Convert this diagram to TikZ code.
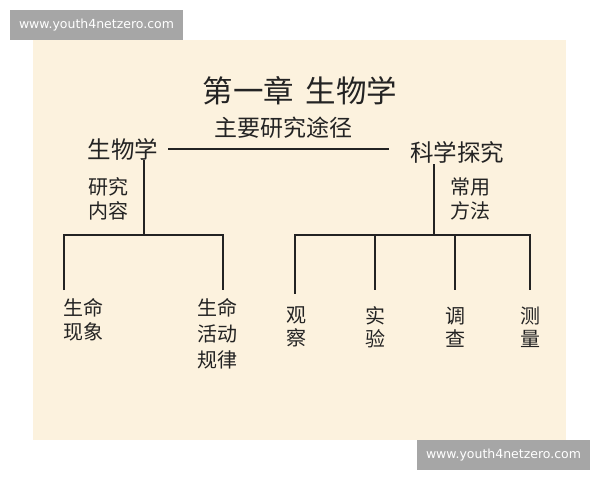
\documentclass[tikz,border=0pt]{standalone}
\usepackage{fontspec}
\newfontfamily\cjk{Noto Sans CJK SC}
\newfontfamily\wm{DejaVu Sans}
\definecolor{paper}{RGB}{252,242,222}
\definecolor{wmgray}{RGB}{166,166,166}
\definecolor{ink}{RGB}{35,35,35}
\begin{document}
\begin{tikzpicture}[x=1pt,y=-1pt,
  lbl/.style={inner sep=0pt, text=ink, font=\cjk\fontsize{20}{24}\selectfont, align=center},
  head/.style={inner sep=0pt, text=ink, font=\cjk\fontsize{23.5}{28}\selectfont},
  wmark/.style={fill=wmgray, text=white, font=\wm\fontsize{12.5}{14}\selectfont, minimum width=173pt, minimum height=30pt, inner sep=0pt},
  conn/.style={draw=ink, line width=1.6pt}]
\useasboundingbox (0,0) rectangle (600,480);
\fill[white] (0,0) rectangle (600,480);
\fill[paper] (33,40) rectangle (566,440);
\node[wmark] (wm1) at (96.5,25) {www.youth4netzero.com};
\node[wmark] (wm2) at (503.5,455) {www.youth4netzero.com};
% title
\node[inner sep=0pt, text=ink, font=\cjk\fontsize{30.5}{36}\selectfont] (title) at (300,91) {第一章\hspace{12pt}生物学};
\node[head] (bio) at (123,149) {生物学};
\node[head] (sci) at (457,152) {科学探究};
\node[head, font=\cjk\fontsize{23}{28}\selectfont] (path) at (283,128) {主要研究途径};
\draw[conn, shorten <=10pt, shorten >=21pt] (bio.east) -- (bio.east -| sci.west);
% left branch
\coordinate (lj) at (144,235);
\coordinate (la) at (64,235);
\coordinate (lb) at (223,235);
\coordinate (la2) at (64,290);
\coordinate (lb2) at (223,290);
\node[lbl] (content) at (108,198.5) {研究\\内容};
\draw[conn] (bio.south -| lj) -- (lj);
\draw[conn] (la2) -- (la) -- (lb) -- (lb2);
\node[lbl, font=\cjk\fontsize{20}{24.5}\selectfont] (p1) at (83,320) {生命\\现象};
\node[lbl, font=\cjk\fontsize{20}{26}\selectfont] (p2) at (217,334) {生命\\活动\\规律};
% right branch
\coordinate (rj) at (434,235);
\coordinate (r1) at (295,235);
\coordinate (r2) at (375,235);
\coordinate (r3) at (455,235);
\coordinate (r4) at (530,235);
\node[lbl] (method) at (470,198.5) {常用\\方法};
\draw[conn] ([yshift=-1pt]sci.south -| rj) -- (rj);
\node[lbl, font=\cjk\fontsize{20}{23}\selectfont] (m1) at (296,327) {观\\察};
\node[lbl, font=\cjk\fontsize{20}{23}\selectfont] (m2) at (375,327) {实\\验};
\node[lbl, font=\cjk\fontsize{20}{23}\selectfont] (m3) at (455,327) {调\\查};
\node[lbl, font=\cjk\fontsize{20}{23}\selectfont] (m4) at (530,327) {测\\量};
\draw[conn] (r1 |- m1.north) ++(0,-13) -- (r1) -- (r4) -- ++(0,55);
\draw[conn] (r2) -- ++(0,55);
\draw[conn] (r3) -- ++(0,55);
\end{tikzpicture}
\end{document}
